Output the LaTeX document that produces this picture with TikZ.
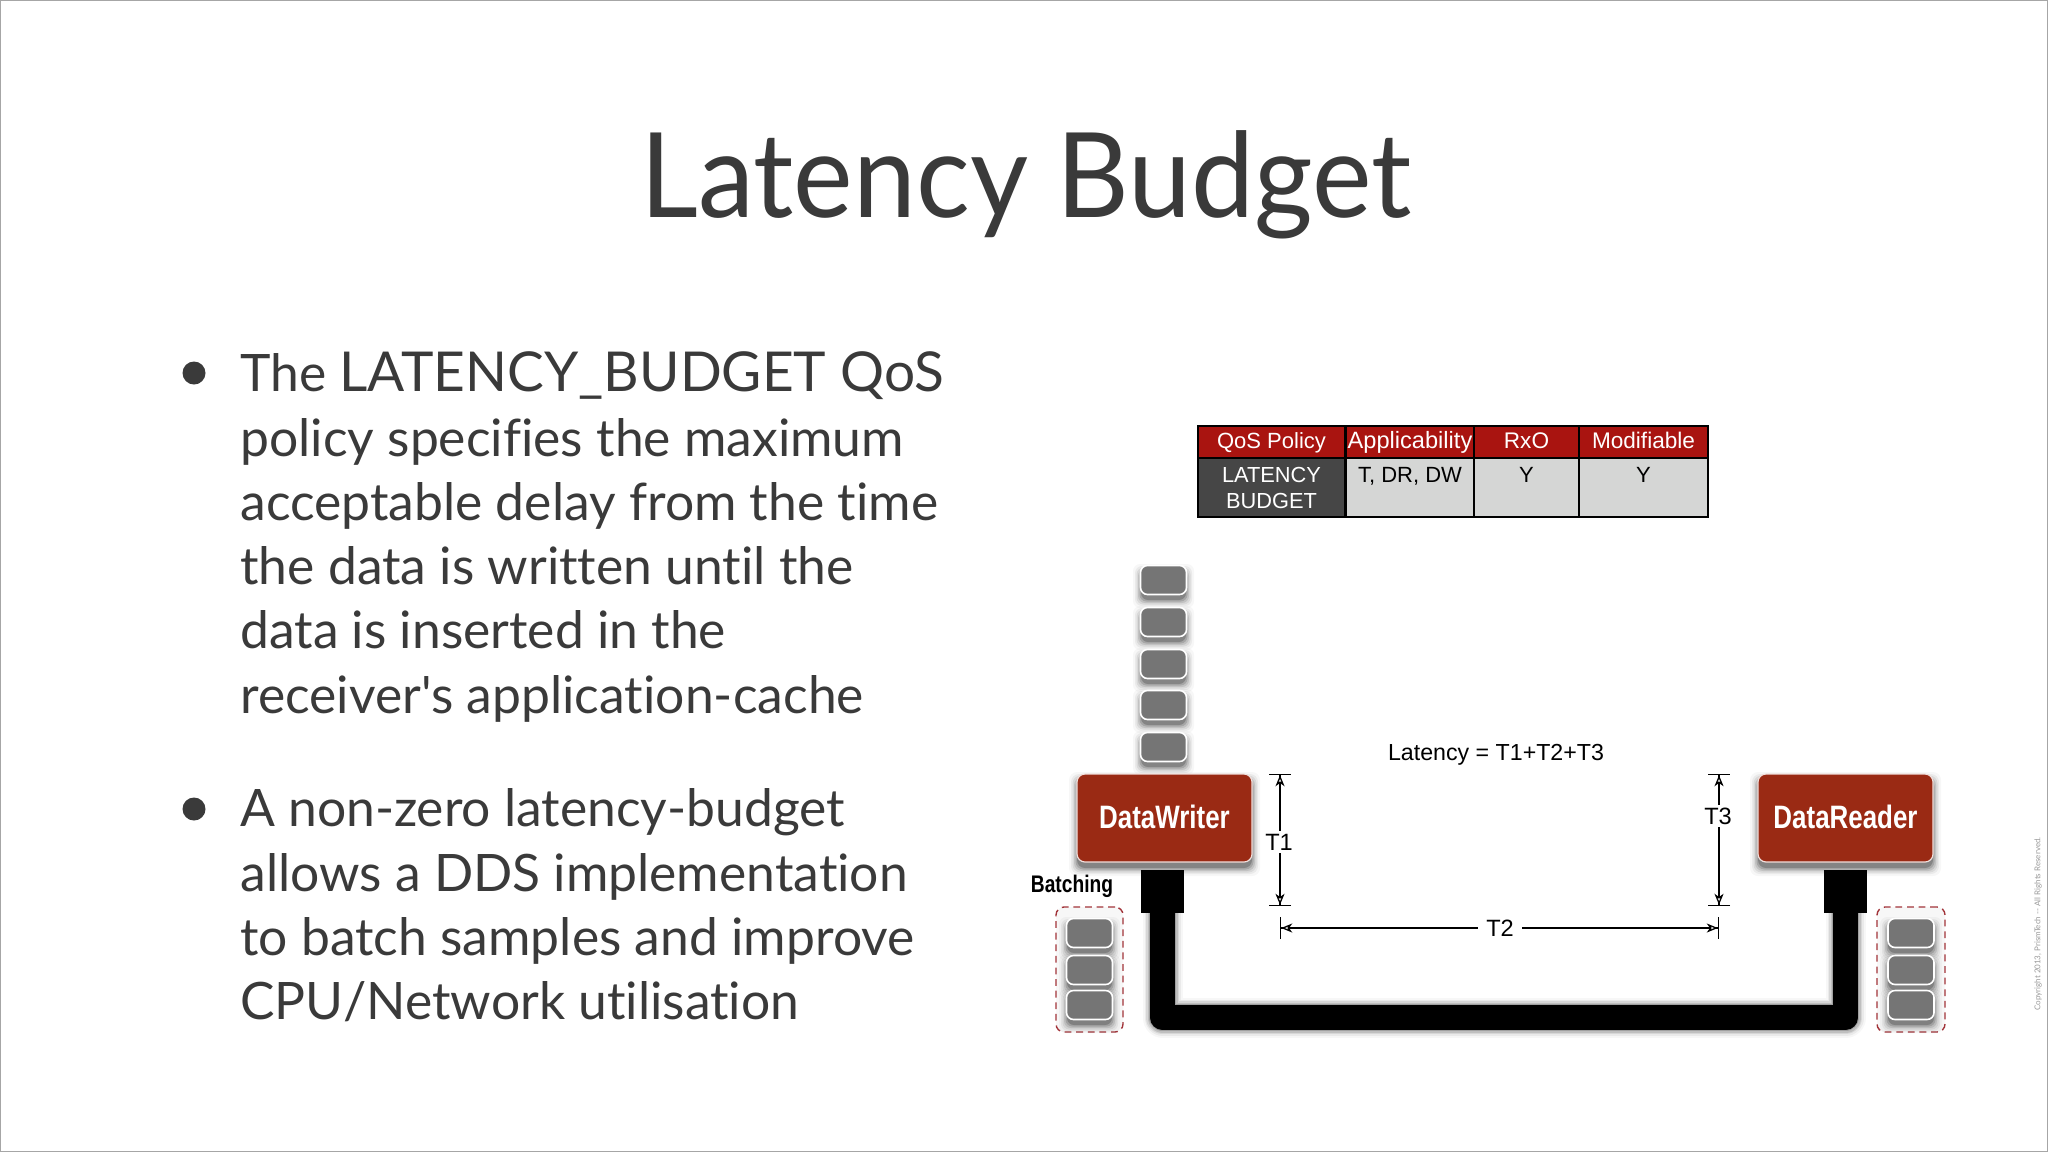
\documentclass[tikz,border=0pt]{standalone}
\usepackage{fontspec}
\newfontfamily\lato{Lato}[Ligatures=NoCommon]
\newfontfamily\latot{Lato}[FakeStretch=0.955,Ligatures=NoCommon]
\newfontfamily\hv{Liberation Sans}
\newfontfamily\condb{Liberation Sans}[FakeStretch=0.8]
\usetikzlibrary{arrows.meta}
\definecolor{ink}{HTML}{3A3A3A}
\definecolor{hdr}{HTML}{A91410}
\definecolor{dk}{HTML}{464646}
\definecolor{cellg}{HTML}{D5D6D5}
\definecolor{boxr}{HTML}{9A2A14}
\definecolor{smp}{HTML}{757575}
\definecolor{dashr}{HTML}{A2343A}
\newcommand{\up}[1]{{\fontsize{27.5}{32.15}\selectfont #1}}
\tikzset{
 x=0.5pt,y=-0.5pt,
 hd/.style={fill=hdr,draw=black,line width=1.2pt,text=white,minimum height=16pt,inner sep=0pt,text height=8.6pt,text depth=2.4pt,font=\hv\fontsize{11.3}{14}\selectfont},
 cl/.style={fill=cellg,draw=black,line width=1.2pt,text=black,minimum height=29.5pt,inner sep=0pt,font=\hv\fontsize{11}{14}\selectfont},
 celltxt/.style={anchor=base,inner sep=0pt,text=black,font=\hv\fontsize{11}{14}\selectfont},
 actor/.style={fill=boxr,draw=white!85!boxr,line width=.6pt,rounded corners=4pt,minimum width=87.5pt,minimum height=44pt,inner sep=0pt,text=white,font=\condb\bfseries\fontsize{16.2}{18}\selectfont},
 smpbox/.style={fill=smp,draw=white,line width=.8pt,rounded corners=3.5pt,minimum width=23pt,minimum height=14.5pt,inner sep=0pt},
 batch/.style={draw=dashr,line width=.7pt,dash pattern=on 3.4pt off 2.4pt,rounded corners=4pt,fill=white!97!black,inner sep=0pt},
 plug/.style={fill=black,minimum width=21.5pt,minimum height=21.5pt,inner sep=0pt},
 dim/.style={draw=black,line width=.65pt,{Bar[width=11pt,line width=.6pt]Stealth[length=5.5pt,width=4.5pt,inset=1.6pt,fill=white]}-{Stealth[length=5.5pt,width=4.5pt,inset=1.6pt,fill=white]Bar[width=11pt,line width=.6pt]}},
 lbl/.style={text=black,inner sep=1.5pt,fill=white,font=\hv\fontsize{11.8}{14}\selectfont},
 body/.style={anchor=north west,align=left,inner sep=0pt,text=ink,font=\lato\fontsize{25.8}{32.15}\selectfont},
 dot/.style={circle,fill=ink,minimum size=11.5pt,inner sep=0pt},
}
% soft shadow: stacked translucent rounded boxes
\newcommand{\softsh}[5]{%x1 y1 x2 y2 r
 \foreach \g/\o in {8/.03,6/.05,4.5/.07,3/.1,1.5/.14,0/.2}{
  \fill[black,opacity=\o,rounded corners=#5] (#1-\g,#2+6-\g) rectangle (#3+\g,#4+6+\g);}}
\begin{document}
\begin{tikzpicture}
\useasboundingbox (0,0) rectangle (2048,1152);
\fill[white] (0,0) rectangle (2048,1152);
\draw[gray!70,line width=.8pt] (0.5,0.5) rectangle (2047.5,1151.5);
\node[anchor=base,text=ink,font=\latot\fontsize{59}{60}\selectfont,inner sep=0pt] (title) at (1026,217) {Latency Budget};
\node[dot] (b1) at (194,373) {};
\node[dot] (b2) at (194,809) {};
\node[body] (t1) at (240,351.5) {The \up{LATENCY\_BUDGET QoS}\\policy specifies the maximum\\acceptable delay from the time\\the data is written until the\\data is inserted in the\\receiver's application-cache};
\node[body] (t2) at (240,788.5) {A non-zero latency-budget\\allows a DDS implementation\\to batch samples and improve\\CPU/Network utilisation};
% table
\node[hd,minimum width=73.5pt,font=\hv\fontsize{11}{14}\selectfont] (h1) at (1271.5,442) {QoS Policy};
\node[hd,minimum width=64.5pt,font=\hv\fontsize{11.8}{14}\selectfont] (h2) at (1410,442) {Applicability};
\node[hd,minimum width=52.5pt] (h3) at (1526.5,442) {RxO};
\node[hd,minimum width=64.5pt] (h4) at (1643.5,442) {Modifiable};
\node[cl,fill=dk,text=white,minimum width=73.5pt,align=center,font=\hv\fontsize{10.9}{13}\selectfont] (c1) at (1271.5,487.5) {LATENCY\\BUDGET};
\node[cl,minimum width=64.5pt] (c2) at (1410,487.5) {};
\node[cl,minimum width=52.5pt] (c3) at (1526.5,487.5) {};
\node[cl,minimum width=64.5pt] (c4) at (1643.5,487.5) {};
\node[celltxt] (c2t) at (1410,482) {T, DR, DW};
\node[celltxt] (c3t) at (1526.5,482) {Y};
\node[celltxt] (c4t) at (1643.5,482) {Y};
% batch groups
\node[batch,minimum width=33.5pt,minimum height=62.5pt] (bl) at (1089.5,969.5) {};
\node[batch,minimum width=34pt,minimum height=62.5pt] (br) at (1911,969.5) {};
% samples
\foreach \yy [count=\i] in {580,622,664,705,747}{
 \softsh{1141}{\yy-14}{1186}{\yy+14}{3.5pt}
 \node[smpbox] (s\i) at (1163.5,\yy) {};}
\foreach \yy [count=\i] in {933,970,1005}{
 \softsh{1067}{\yy-14}{1112}{\yy+14}{3.5pt}
 \node[smpbox] (l\i) at (1089.5,\yy) {};
 \softsh{1888}{\yy-14}{1934}{\yy+14}{3.5pt}
 \node[smpbox] (r\i) at (1911,\yy) {};}
% actors
\softsh{1077}{774}{1252}{862}{4pt}
\softsh{1758}{774}{1933}{862}{4pt}
\node[actor] (dw) at (1164.5,818) {\raisebox{1pt}{DataWriter}};
\node[actor] (dr) at (1845.5,818) {\raisebox{1pt}{DataReader}};
\node[anchor=base,inner sep=0pt,text=black,font=\condb\bfseries\fontsize{12}{14}\selectfont] (bt) at (1072,892) {Batching};
% pipe
\node[plug] (pl) at (1162.5,891.5) {};
\node[plug] (pr) at (1845.5,891.5) {};
\coordinate (cl) at (1162.5,1017.5);
\coordinate (cr) at (1845.5,1017.5);
\begin{scope}[yshift=-3.5pt]
\foreach \w/\o in {20/.03,18/.05,16.5/.08,15/.11,13.5/.16,12.5/.22}{
 \draw[black,opacity=\o,line width=\w pt,line join=round] (pl.south) -- (cl) -- (cr) -- (pr.south);}
\end{scope}
\draw[black,line width=12.5pt,line join=round] (pl.south) -- (cl) -- (cr) -- (pr.south);
% dimensions
\coordinate (t1a) at (1280,774); \coordinate (t1b) at (1280,906);
\coordinate (t3a) at (1719,774); \coordinate (t3b) at (1719,906);
\coordinate (t2a) at (1280,928); \coordinate (t2b) at (1719,928);
\draw[dim] (t1a) -- (t1b);
\draw[dim] (t3a) -- (t3b);
\draw[dim] (t2a) -- (t2b);
\node[lbl] (T1) at (1279,842) {T1};
\node[lbl] (T3) at (1718,816) {T3};
\node[lbl,inner xsep=4pt] (T2) at (1500,928) {T2};
\node[font=\hv\fontsize{11.6}{14}\selectfont,text=black,inner sep=0pt] (lat) at (1496,755) {Latency = T1+T2+T3};
\node[rotate=90,inner sep=0pt,text=gray!80,font=\lato\fontsize{4}{5}\selectfont] (copy) at (2038,924) {Copyright 2013, PrismTech -- All Rights Reserved.};
\end{tikzpicture}
\end{document}
